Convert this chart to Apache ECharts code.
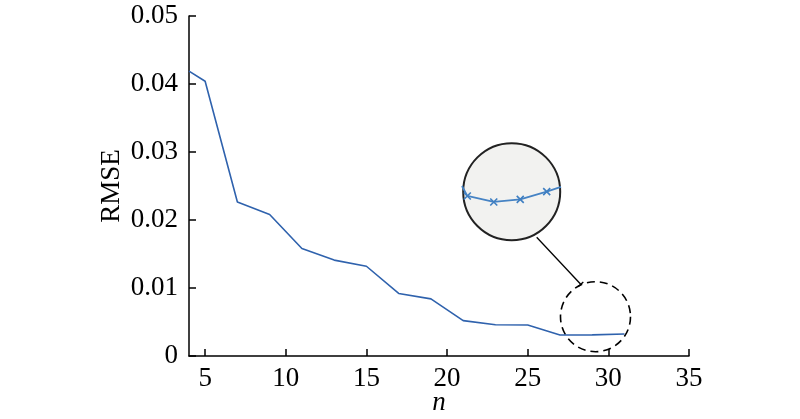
<!DOCTYPE html>
<html>
<head>
<meta charset="utf-8">
<script src="https://cdn.jsdelivr.net/npm/echarts@6/dist/echarts.min.js"></script>
<style>html,body{margin:0;padding:0;background:#fff}#c{width:800px;height:419px}</style>
</head>
<body>
<div id="c"></div>
<script>
// Main series
var nValues = [4, 5, 7, 9, 11, 13, 15, 17, 19, 21, 23, 25, 27, 29, 31];
var rmseValues = [0.0419, 0.0404, 0.02265, 0.0208, 0.0158, 0.0141, 0.0132, 0.0092, 0.0084, 0.0052, 0.0046, 0.00456, 0.00309, 0.0031, 0.00324];
// Tick labels
var xTicks = [5, 10, 15, 20, 25, 30, 35];
var yTicks = [0, 0.01, 0.02, 0.03, 0.04, 0.05];
// Magnified inset (detail near n = 27..31)
var insetN = [26.8, 27, 28, 29, 30, 30.54];
var insetRMSE = [0.00325, 0.003167, 0.003117, 0.003139, 0.003203, 0.003242];
var insetMarked = [false, true, true, true, true, false];

var chart = echarts.init(document.getElementById('c'), null, {renderer: 'canvas'});
var font = "'Liberation Serif', 'Times New Roman', serif";

var xPath = 'path://M0,0L10,10M10,0L0,10';

var option = {
  animation: false,
  backgroundColor: '#fff',
  grid: [
    {left: 189, right: 111, top: 16, bottom: 63, containLabel: false, outerBoundsMode: 'none'},
    {left: 462, width: 99, top: 144, height: 96, containLabel: false, outerBoundsMode: 'none'}
  ],
  xAxis: [
    {
      type: 'value', gridIndex: 0, min: 4, max: 35,
      name: 'n', nameLocation: 'middle', nameGap: 33, nameMoveOverlap: false,
      nameTextStyle: {fontFamily: font, fontSize: 27, fontStyle: 'italic', color: '#000'},
      axisLine: {show: true, onZero: false, lineStyle: {color: '#000', width: 1.5}},
      axisTick: {show: true, inside: true, length: 7, customValues: xTicks, lineStyle: {color: '#000', width: 1.5}},
      axisLabel: {show: true, customValues: xTicks, margin: 9, fontFamily: font, fontSize: 27, color: '#000'},
      splitLine: {show: false}
    },
    {
      type: 'value', gridIndex: 1, min: 26.8, max: 30.54, show: false
    }
  ],
  yAxis: [
    {
      type: 'value', gridIndex: 0, min: 0, max: 0.05, interval: 0.01,
      name: 'RMSE', nameLocation: 'middle', nameGap: 64, nameRotate: 90, nameMoveOverlap: false,
      nameTextStyle: {fontFamily: font, fontSize: 27, color: '#000'},
      axisLine: {show: true, onZero: false, lineStyle: {color: '#000', width: 1.5}},
      axisTick: {show: true, inside: true, length: 7, customValues: yTicks, lineStyle: {color: '#000', width: 1.5}},
      axisLabel: {show: true, customValues: yTicks, margin: 11, fontFamily: font, fontSize: 27, color: '#000',
        formatter: function (v) { return v === 0 ? '0' : v.toFixed(2); }},
      splitLine: {show: false}
    },
    {
      type: 'value', gridIndex: 1, min: 0.0028, max: 0.0036, show: false
    }
  ],
  graphic: [
    {type: 'line', z: 1, shape: {x1: 536.7, y1: 237.3, x2: 580.7, y2: 284.3}, style: {stroke: '#000', lineWidth: 1.3}},
    {type: 'line', z: 1, shape: {x1: 578.1, y1: 286.7, x2: 583.3, y2: 281.9}, style: {stroke: '#000', lineWidth: 1.3}},
    {type: 'circle', z: 1, shape: {cx: 595.5, cy: 316.7, r: 35}, style: {fill: 'none', stroke: '#000', lineWidth: 1.6, lineDash: [8, 5]}},
    {type: 'circle', z: 0, shape: {cx: 511.7, cy: 191.7, r: 48.5}, style: {fill: '#f2f2f0', stroke: '#222', lineWidth: 2}}
  ],
  series: [
    {
      type: 'line', xAxisIndex: 0, yAxisIndex: 0,
      data: nValues.map(function (n, i) { return [n, rmseValues[i]]; }),
      showSymbol: false, symbol: 'none',
      lineStyle: {color: '#2f62ad', width: 1.6},
      z: 3
    },
    {
      type: 'line', xAxisIndex: 1, yAxisIndex: 1,
      data: insetN.map(function (n, i) {
        return {value: [n, insetRMSE[i]], symbol: insetMarked[i] ? xPath : 'none'};
      }),
      showAllSymbol: true,
      symbolSize: 7,
      itemStyle: {color: 'none', borderColor: '#3f7fc2', borderWidth: 1.6},
      lineStyle: {color: '#4683c4', width: 1.8},
      z: 5
    }
  ]
};
chart.setOption(option);
</script>
</body>
</html>
